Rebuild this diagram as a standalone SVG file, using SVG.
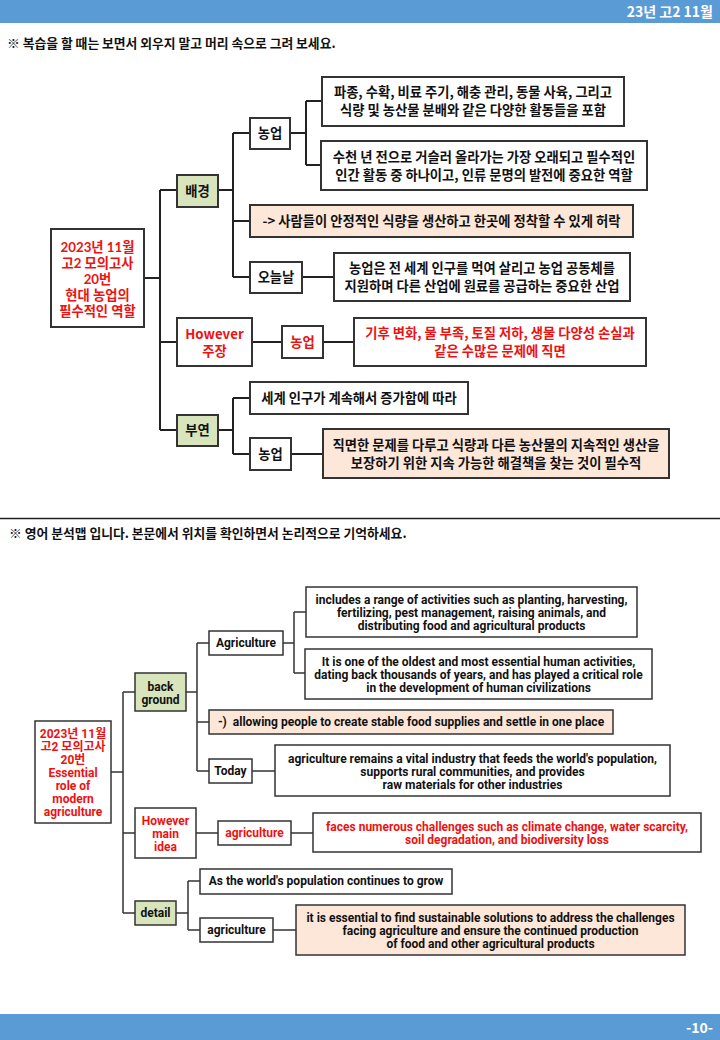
<svg xmlns="http://www.w3.org/2000/svg" width="720" height="1040" viewBox="0 0 720 1040">
<style>
.bg{fill:#ffffff}
.bar{fill:#5b9bd5}
.box{fill:#ffffff;stroke:#333333;stroke-width:2}
.green{fill:#d8e4bc;stroke:#333333;stroke-width:2}
.peach{fill:#fce7d9;stroke:#333333;stroke-width:2}
.bbox{fill:#ffffff;stroke:#333333;stroke-width:1.5}
.bgreen{fill:#d8e4bc;stroke:#333333;stroke-width:1.5}
.bpeach{fill:#fce7d9;stroke:#333333;stroke-width:1.5}
.ln{fill:none;stroke:#222222;stroke-width:2}
.bln{fill:none;stroke:#333333;stroke-width:1.5}
text{font-family:"Noto Sans CJK KR","Noto Sans",sans-serif;}
.k{font-size:13.3px;font-weight:bold;fill:#111111;text-anchor:middle}
.kr{font-size:13.3px;font-weight:bold;fill:#ee1111;text-anchor:middle}
.rt{font-family:Lato,"Noto Sans CJK KR",sans-serif;}
.e{font-family:Roboto,"Noto Sans CJK KR",sans-serif;font-size:12px;font-weight:bold;fill:#111111;text-anchor:middle}
.er{font-family:Roboto,"Noto Sans CJK KR",sans-serif;font-size:12px;font-weight:bold;fill:#ee1111;text-anchor:middle}
.hd{font-size:14px;font-weight:bold;fill:#ffffff;text-anchor:end}
.note{font-size:12.8px;font-weight:bold;fill:#111111}
</style>
<rect class="bg" x="0" y="0" width="720" height="1040"/>
<rect class="bar" x="0" y="0" width="720" height="23"/>
<text class="hd" x="713" y="17">23년 고2 11월</text>
<text class="note" x="7" y="48">※ 복습을 할 때는 보면서 외우지 말고 머리 속으로 그려 보세요.</text>
<line x1="0" y1="518.5" x2="720" y2="518.5" stroke="#222222" stroke-width="1.5"/>
<text class="note" x="9" y="538">※ 영어 분석맵 입니다. 본문에서 위치를 확인하면서 논리적으로 기억하세요.</text>
<rect class="bar" x="0" y="1014" width="720" height="26"/>
<text class="hd" x="713" y="1033">-10-</text>

<g id="connectors-top">
<path class="ln" d="M144,278H160M160,190V430M160,190H177M160,342H177M160,430H177M218,190H233M233,133V277M233,133H250M233,221H250M233,277H250M290,133H306M306,101V165M306,101H322M306,165H321M302,277H334M252,342H282M323,342H354M218,430H233M233,398V454M233,398H250M233,454H250M291,454H323"/>
</g>

<g id="t-root">
<rect class="box" x="51" y="229" width="93" height="98"/>
<text class="kr rt" x="97.5" y="252">2023년 11월</text>
<text class="kr rt" x="97.5" y="268">고2 모의고사</text>
<text class="kr rt" x="97.5" y="284">20번</text>
<text class="kr rt" x="97.5" y="300">현대 농업의</text>
<text class="kr rt" x="97.5" y="316">필수적인 역할</text>
</g>
<g id="t-bg">
<rect class="green" x="177" y="175" width="41" height="32"/>
<text class="k" x="197.5" y="196">배경</text>
</g>
<g id="t-agri1">
<rect class="box" x="250" y="118" width="40" height="31"/>
<text class="k" x="270" y="138">농업</text>
</g>
<g id="t-agri1-a">
<rect class="box" x="322" y="77" width="302" height="49"/>
<text class="k" x="473" y="97">파종, 수확, 비료 주기, 해충 관리, 동물 사육, 그리고</text>
<text class="k" x="473" y="115">식량 및 농산물 분배와 같은 다양한 활동들을 포함</text>
</g>
<g id="t-agri1-b">
<rect class="box" x="321" y="141" width="326" height="49"/>
<text class="k" x="484" y="162">수천 년 전으로 거슬러 올라가는 가장 오래되고 필수적인</text>
<text class="k" x="484" y="180">인간 활동 중 하나이고, 인류 문명의 발전에 중요한 역할</text>
</g>
<g id="t-arrow">
<rect class="peach" x="250" y="205" width="383" height="32"/>
<text class="k" x="441.5" y="226">-&gt; 사람들이 안정적인 식량을 생산하고 한곳에 정착할 수 있게 허락</text>
</g>
<g id="t-today">
<rect class="box" x="250" y="262" width="52" height="31"/>
<text class="k" x="276" y="282">오늘날</text>
</g>
<g id="t-today-a">
<rect class="box" x="334" y="253" width="296" height="48"/>
<text class="k" x="482" y="273">농업은 전 세계 인구를 먹여 살리고 농업 공동체를</text>
<text class="k" x="482" y="291">지원하며 다른 산업에 원료를 공급하는 중요한 산업</text>
</g>
<g id="t-however">
<rect class="box" x="177" y="318" width="75" height="48"/>
<text class="kr" x="214.5" y="339">However</text>
<text class="kr" x="214.5" y="356">주장</text>
</g>
<g id="t-agri2">
<rect class="box" x="282" y="326" width="41" height="32"/>
<text class="kr" x="302.5" y="347">농업</text>
</g>
<g id="t-agri2-a">
<rect class="box" x="354" y="318" width="292" height="48"/>
<text class="kr" x="500" y="338">기후 변화, 물 부족, 토질 저하, 생물 다양성 손실과</text>
<text class="kr" x="500" y="356">같은 수많은 문제에 직면</text>
</g>
<g id="t-detail">
<rect class="green" x="177" y="415" width="41" height="31"/>
<text class="k" x="197.5" y="435">부연</text>
</g>
<g id="t-pop">
<rect class="box" x="250" y="382" width="218" height="32"/>
<text class="k" x="359" y="403">세계 인구가 계속해서 증가함에 따라</text>
</g>
<g id="t-agri3">
<rect class="box" x="250" y="438" width="41" height="32"/>
<text class="k" x="270.5" y="459">농업</text>
</g>
<g id="t-agri3-a">
<rect class="peach" x="323" y="429" width="346" height="49"/>
<text class="k" x="496" y="450">직면한 문제를 다루고 식량과 다른 농산물의 지속적인 생산을</text>
<text class="k" x="496" y="468">보장하기 위한 지속 가능한 해결책을 찾는 것이 필수적</text>
</g>

<g id="connectors-bottom">
<path class="bln" d="M111,772H123M123,692V913M123,692H135M123,833H135M123,913H135M186,692H197M197,643V771M197,643H209M197,722H209M197,771H209M283,643H294M294,612V673M294,612H306M294,673H305M252,771H275M196,833H218M291,833H313M176,913H188M188,881V930M188,881H200M188,930H200M273,930H296"/>
</g>

<g id="b-root">
<rect class="bbox" x="35" y="721" width="76" height="102"/>
<text class="er" x="73" y="738" font-size="11">2023년 11월</text>
<text class="er" x="73" y="751" font-size="11">고2 모의고사</text>
<text class="er" x="73" y="764" font-size="11">20번</text>
<text class="er" x="73" y="777">Essential</text>
<text class="er" x="73" y="790">role of</text>
<text class="er" x="73" y="803">modern</text>
<text class="er" x="73" y="816">agriculture</text>
</g>
<g id="b-bg">
<rect class="bgreen" x="135" y="673" width="51" height="38"/>
<text class="e" x="160.5" y="691">back</text>
<text class="e" x="160.5" y="704">ground</text>
</g>
<g id="b-agri1">
<rect class="bbox" x="209" y="631" width="74" height="24"/>
<text class="e" x="246" y="647">Agriculture</text>
</g>
<g id="b-agri1-a">
<rect class="bbox" x="306" y="587" width="331" height="50"/>
<text class="e" x="471.5" y="604">includes a range of activities such as planting, harvesting,</text>
<text class="e" x="471.5" y="617">fertilizing, pest management, raising animals, and</text>
<text class="e" x="471.5" y="630">distributing food and agricultural products</text>
</g>
<g id="b-agri1-b">
<rect class="bbox" x="305" y="649" width="347" height="50"/>
<text class="e" x="478.5" y="666">It is one of the oldest and most essential human activities,</text>
<text class="e" x="478.5" y="679">dating back thousands of years, and has played a critical role</text>
<text class="e" x="478.5" y="692">in the development of human civilizations</text>
</g>
<g id="b-arrow">
<rect class="bpeach" x="209" y="710" width="404" height="24"/>
<text class="e" x="411" y="726">-)&#160; allowing people to create stable food supplies and settle in one place</text>
</g>
<g id="b-today">
<rect class="bbox" x="209" y="759" width="43" height="24"/>
<text class="e" x="230.5" y="775">Today</text>
</g>
<g id="b-today-a">
<rect class="bbox" x="275" y="745" width="395" height="51"/>
<text class="e" x="472.5" y="763">agriculture remains a vital industry that feeds the world's population,</text>
<text class="e" x="472.5" y="776">supports rural communities, and provides</text>
<text class="e" x="472.5" y="789">raw materials for other industries</text>
</g>
<g id="b-however">
<rect class="bbox" x="135" y="808" width="61" height="50"/>
<text class="er" x="165.5" y="825">However</text>
<text class="er" x="165.5" y="838">main</text>
<text class="er" x="165.5" y="851">idea</text>
</g>
<g id="b-agri2">
<rect class="bbox" x="218" y="821" width="73" height="24"/>
<text class="er" x="254.5" y="837">agriculture</text>
</g>
<g id="b-agri2-a">
<rect class="bbox" x="313" y="813" width="388" height="39"/>
<text class="er" x="507" y="831">faces numerous challenges such as climate change, water scarcity,</text>
<text class="er" x="507" y="844">soil degradation, and biodiversity loss</text>
</g>
<g id="b-detail">
<rect class="bgreen" x="135" y="901" width="41" height="24"/>
<text class="e" x="155.5" y="917">detail</text>
</g>
<g id="b-pop">
<rect class="bbox" x="200" y="869" width="252" height="25"/>
<text class="e" x="326" y="885">As the world's population continues to grow</text>
</g>
<g id="b-agri3">
<rect class="bbox" x="200" y="918" width="73" height="24"/>
<text class="e" x="236.5" y="934">agriculture</text>
</g>
<g id="b-agri3-a">
<rect class="bpeach" x="296" y="905" width="389" height="50"/>
<text class="e" x="490.5" y="922">it is essential to find sustainable solutions to address the challenges</text>
<text class="e" x="490.5" y="935">facing agriculture and ensure the continued production</text>
<text class="e" x="490.5" y="948">of food and other agricultural products</text>
</g>
</svg>
